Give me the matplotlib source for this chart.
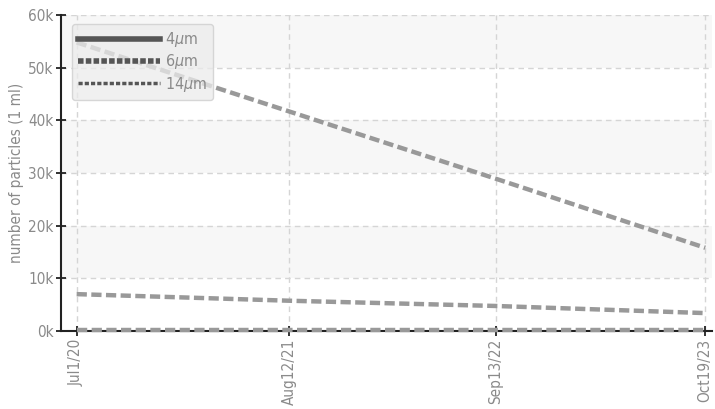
#---- Imports ----------------------------------------------------------------#

import datetime as dt
import matplotlib
matplotlib.use('Agg')
import matplotlib.pyplot as plt
from matplotlib import font_manager
from matplotlib.lines import Line2D
from matplotlib.ticker import FuncFormatter

#---- Data -------------------------------------------------------------------#

dates = [dt.date(2020, 7, 1), dt.date(2021, 8, 12),
         dt.date(2022, 9, 13), dt.date(2023, 10, 19)]
tick_labels = ['Jul1/20', 'Aug12/21', 'Sep13/22', 'Oct19/23']

counts_4um = [54800, 41700, 28900, 15800]
counts_6um = [7000, 5750, 4750, 3400]
counts_14um = [150, 150, 150, 150]

series_labels = ['4$\\mu$m', '6$\\mu$m', '14$\\mu$m']
y_ticks = [0, 10000, 20000, 30000, 40000, 50000, 60000]

#---- Font: pick a narrow face if one is installed ---------------------------#

narrow = None
for f in font_manager.fontManager.ttflist:
    if f.stretch in ('condensed', 'semi-condensed', 'extra-condensed') \
            or 'Narrow' in f.name or 'Condensed' in f.name:
        if 'Mono' not in f.name and f.style == 'normal':
            narrow = f
            break

if narrow is not None:
    plt.rcParams['font.family'] = [narrow.name, 'DejaVu Sans']
    plt.rcParams['font.stretch'] = narrow.stretch
    fs = 11
else:
    plt.rcParams['font.family'] = ['DejaVu Sans']
    fs = 9
plt.rcParams['mathtext.fontset'] = 'dejavusans'

#---- Plotting ---------------------------------------------------------------#

txt = '#8a8a8a'
fig = plt.figure(figsize=(7.15, 4.09), dpi=100)
ax = fig.add_axes([61/715, 78/409, 651/715, 316/409])

#alternating bands
for lo in (10000, 30000, 50000):
    ax.axhspan(lo, lo + 10000, color='#f7f7f7', zorder=0, lw=0)

for d in dates:
    ax.axvline(d, color='#d5d5d5', lw=1, ls=(0, (4, 3)), zorder=1)
for y in y_ticks[1:]:
    ax.axhline(y, color='#d5d5d5', lw=1, ls=(0, (4, 3)), zorder=1)

for vals in (counts_4um, counts_6um, counts_14um):
    ax.plot(dates, vals, color='#999999', lw=3.2, ls=(0, (2.3, 1.0)),
            zorder=3, clip_on=False)

ax.set_ylim(0, 60000)
ax.set_xlim(dates[0] - dt.timedelta(days=30.7),
            dates[-1] + dt.timedelta(days=13))
ax.set_yticks(y_ticks)
ax.yaxis.set_major_formatter(FuncFormatter(lambda v, p: '%dk' % (v / 1000)))
ax.set_xticks(dates)
ax.set_xticklabels(tick_labels, rotation=90)

for s in ('top', 'right'):
    ax.spines[s].set_visible(False)
for s in ('left', 'bottom'):
    ax.spines[s].set_color('#222222')
    ax.spines[s].set_linewidth(1.5)
    ax.spines[s].set_zorder(2)

ax.tick_params(direction='inout', length=7, width=1.3, color='#222222',
               labelcolor=txt, labelsize=fs, pad=2)
ax.set_ylabel('number of particles (1 ml)', color=txt, fontsize=fs,
              labelpad=3)

handles = [Line2D([], [], color='#555555', lw=4),
           Line2D([], [], color='#555555', lw=4, ls=(0, (1, 0.4))),
           Line2D([], [], color='#555555', lw=2.5, ls=(0, (1.2, 0.6)))]
leg = ax.legend(handles, series_labels, loc='upper left',
                bbox_to_anchor=(0.017, 0.972), borderaxespad=0,
                handlelength=78 / (fs * 100 / 72), handletextpad=0.3,
                labelspacing=0.2, borderpad=0.4, fontsize=fs + 0.5,
                fancybox=True, framealpha=0.75, facecolor='#ebebeb',
                edgecolor='#cccccc', labelcolor=txt)
leg.set_zorder(5)

plt.savefig('out.png', dpi=100)
